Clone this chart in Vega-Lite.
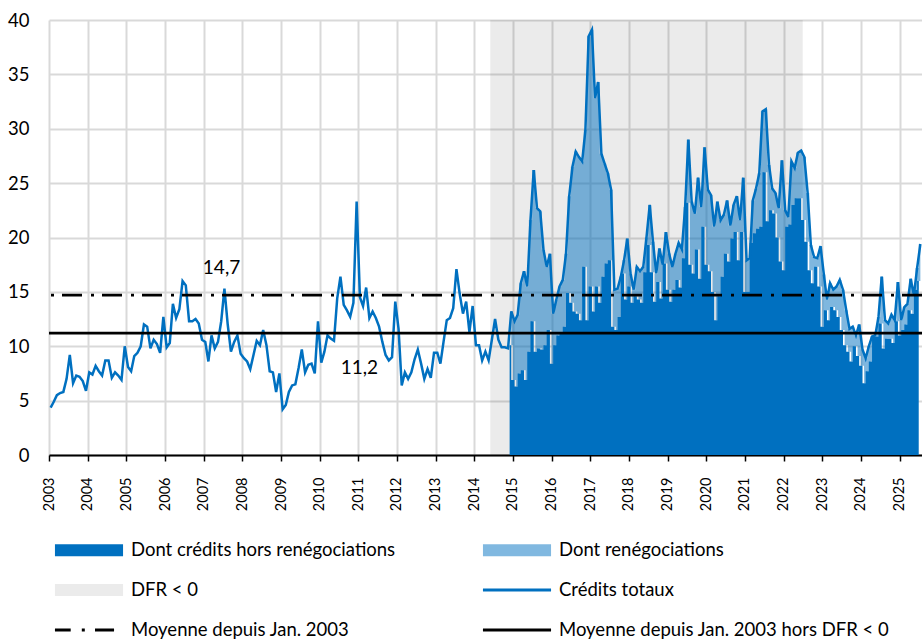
{
"$schema": "https://vega.github.io/schema/vega-lite/v6.json",
"width": 873, "height": 435,
"autosize": {"type": "none"},
"padding": {"left": 49, "top": 20, "right": 0, "bottom": 188},
"background": "white",
"config": {
  "font": "Lato",
  "view": {"stroke": null},
  "axisX": {"grid": true, "gridColor": "#d9d9d9", "gridWidth": 2, "domainColor": "#000000", "domainWidth": 2, "tickColor": "#000000", "tickWidth": 1.5, "tickSize": 6, "labelFontSize": 14.5, "labelColor": "#000000", "labelPadding": 16, "labelAngle": -90, "labelOverlap": false, "labelFlush": false, "title": null},
  "axisY": {"grid": true, "gridColor": "#d9d9d9", "gridWidth": 2, "domain": false, "ticks": false, "tickSize": 0, "labelFontSize": 18.5, "labelColor": "#000000", "labelPadding": 20, "title": null}
},
"datasets": {
"m": [
{"d":"2003-01","t":4.35},{"d":"2003-02","t":4.9},{"d":"2003-03","t":5.5},{"d":"2003-04","t":5.7},{"d":"2003-05","t":5.8},{"d":"2003-06","t":7.0},{"d":"2003-07","t":9.2},{"d":"2003-08","t":6.6},{"d":"2003-09","t":7.3},{"d":"2003-10","t":7.2},{"d":"2003-11","t":6.8},{"d":"2003-12","t":5.9},
{"d":"2004-01","t":7.6},{"d":"2004-02","t":7.4},{"d":"2004-03","t":8.2},{"d":"2004-04","t":7.7},{"d":"2004-05","t":7.3},{"d":"2004-06","t":8.7},{"d":"2004-07","t":8.7},{"d":"2004-08","t":7.1},{"d":"2004-09","t":7.6},{"d":"2004-10","t":7.3},{"d":"2004-11","t":6.9},{"d":"2004-12","t":10.0},
{"d":"2005-01","t":8.1},{"d":"2005-02","t":7.7},{"d":"2005-03","t":9.1},{"d":"2005-04","t":9.4},{"d":"2005-05","t":10.0},{"d":"2005-06","t":12.0},{"d":"2005-07","t":11.8},{"d":"2005-08","t":9.8},{"d":"2005-09","t":10.6},{"d":"2005-10","t":10.2},{"d":"2005-11","t":9.4},{"d":"2005-12","t":12.7},
{"d":"2006-01","t":9.9},{"d":"2006-02","t":10.3},{"d":"2006-03","t":13.9},{"d":"2006-04","t":12.6},{"d":"2006-05","t":13.4},{"d":"2006-06","t":16.0},{"d":"2006-07","t":15.6},{"d":"2006-08","t":12.3},{"d":"2006-09","t":12.3},{"d":"2006-10","t":12.5},{"d":"2006-11","t":12.1},{"d":"2006-12","t":10.6},
{"d":"2007-01","t":10.4},{"d":"2007-02","t":8.6},{"d":"2007-03","t":11.0},{"d":"2007-04","t":9.8},{"d":"2007-05","t":10.4},{"d":"2007-06","t":12.3},{"d":"2007-07","t":15.3},{"d":"2007-08","t":12.0},{"d":"2007-09","t":9.5},{"d":"2007-10","t":10.4},{"d":"2007-11","t":11.0},{"d":"2007-12","t":9.3},
{"d":"2008-01","t":8.9},{"d":"2008-02","t":8.6},{"d":"2008-03","t":7.9},{"d":"2008-04","t":9.2},{"d":"2008-05","t":10.5},{"d":"2008-06","t":10.1},{"d":"2008-07","t":11.5},{"d":"2008-08","t":10.1},{"d":"2008-09","t":7.7},{"d":"2008-10","t":7.6},{"d":"2008-11","t":5.8},{"d":"2008-12","t":7.5},
{"d":"2009-01","t":4.2},{"d":"2009-02","t":4.6},{"d":"2009-03","t":5.8},{"d":"2009-04","t":6.4},{"d":"2009-05","t":6.5},{"d":"2009-06","t":8.0},{"d":"2009-07","t":9.7},{"d":"2009-08","t":7.6},{"d":"2009-09","t":8.3},{"d":"2009-10","t":8.4},{"d":"2009-11","t":7.5},{"d":"2009-12","t":12.3},
{"d":"2010-01","t":8.5},{"d":"2010-02","t":9.5},{"d":"2010-03","t":11.0},{"d":"2010-04","t":10.7},{"d":"2010-05","t":10.5},{"d":"2010-06","t":14.4},{"d":"2010-07","t":16.4},{"d":"2010-08","t":13.8},{"d":"2010-09","t":13.3},{"d":"2010-10","t":12.7},{"d":"2010-11","t":14.0},{"d":"2010-12","t":23.3},
{"d":"2011-01","t":14.5},{"d":"2011-02","t":13.7},{"d":"2011-03","t":15.4},{"d":"2011-04","t":12.6},{"d":"2011-05","t":13.2},{"d":"2011-06","t":12.6},{"d":"2011-07","t":11.8},{"d":"2011-08","t":10.4},{"d":"2011-09","t":9.2},{"d":"2011-10","t":8.7},{"d":"2011-11","t":9.0},{"d":"2011-12","t":14.1},
{"d":"2012-01","t":11.6},{"d":"2012-02","t":6.4},{"d":"2012-03","t":7.6},{"d":"2012-04","t":7.0},{"d":"2012-05","t":7.6},{"d":"2012-06","t":8.8},{"d":"2012-07","t":9.7},{"d":"2012-08","t":8.4},{"d":"2012-09","t":7.0},{"d":"2012-10","t":7.9},{"d":"2012-11","t":7.1},{"d":"2012-12","t":9.4},
{"d":"2013-01","t":9.4},{"d":"2013-02","t":8.4},{"d":"2013-03","t":10.4},{"d":"2013-04","t":12.4},{"d":"2013-05","t":12.6},{"d":"2013-06","t":13.5},{"d":"2013-07","t":17.1},{"d":"2013-08","t":14.8},{"d":"2013-09","t":13.0},{"d":"2013-10","t":14.1},{"d":"2013-11","t":11.3},{"d":"2013-12","t":13.7},
{"d":"2014-01","t":10.1},{"d":"2014-02","t":10.1},{"d":"2014-03","t":8.7},{"d":"2014-04","t":9.5},{"d":"2014-05","t":8.7},{"d":"2014-06","t":10.6},{"d":"2014-07","t":12.5},{"d":"2014-08","t":10.6},{"d":"2014-09","t":9.9},{"d":"2014-10","t":9.9},{"d":"2014-11","t":9.8},{"d":"2014-12","t":13.2,"h":10.1},
{"d":"2015-01","t":12.3,"h":6.9},{"d":"2015-02","t":12.9,"h":6.3},{"d":"2015-03","t":15.8,"h":7.5},{"d":"2015-04","t":16.9,"h":7.8},{"d":"2015-05","t":15.5,"h":6.9},{"d":"2015-06","t":21.6,"h":9.5},{"d":"2015-07","t":26.2,"h":12.3},{"d":"2015-08","t":22.7,"h":9.5},{"d":"2015-09","t":22.4,"h":9.8},{"d":"2015-10","t":18.9,"h":9.7},{"d":"2015-11","t":17.3,"h":10.1},{"d":"2015-12","t":18.5,"h":11.5},
{"d":"2016-01","t":13.0,"h":8.4},{"d":"2016-02","t":14.3,"h":10.1},{"d":"2016-03","t":15.5,"h":11.0},{"d":"2016-04","t":16.1,"h":11.2},{"d":"2016-05","t":18.5,"h":11.8},{"d":"2016-06","t":23.8,"h":14.9},{"d":"2016-07","t":26.5,"h":14.0},{"d":"2016-08","t":27.9,"h":13.2},{"d":"2016-09","t":27.4,"h":13.0},{"d":"2016-10","t":27.0,"h":12.4},{"d":"2016-11","t":29.9,"h":17.3},{"d":"2016-12","t":38.5,"h":12.4},
{"d":"2017-01","t":39.1,"h":15.5},{"d":"2017-02","t":32.8,"h":13.2},{"d":"2017-03","t":34.3,"h":15.5},{"d":"2017-04","t":27.7,"h":14.0},{"d":"2017-05","t":26.8,"h":16.4},{"d":"2017-06","t":25.9,"h":17.6},{"d":"2017-07","t":24.4,"h":17.9},{"d":"2017-08","t":15.2,"h":11.8},{"d":"2017-09","t":15.3,"h":11.5},{"d":"2017-10","t":16.4,"h":12.7},{"d":"2017-11","t":17.9,"h":16.7},{"d":"2017-12","t":19.9,"h":14.3},
{"d":"2018-01","t":16.7,"h":15.5},{"d":"2018-02","t":15.2,"h":14.0},{"d":"2018-03","t":17.3,"h":14.6},{"d":"2018-04","t":16.9,"h":14.3},{"d":"2018-05","t":17.3,"h":14.0},{"d":"2018-06","t":20.0,"h":16.8},{"d":"2018-07","t":23.0,"h":19.3},{"d":"2018-08","t":19.6,"h":16.8},{"d":"2018-09","t":16.7,"h":14.1},{"d":"2018-10","t":19.0,"h":15.9},{"d":"2018-11","t":17.5,"h":14.4},{"d":"2018-12","t":20.5,"h":17.6},
{"d":"2019-01","t":18.5,"h":15.2},{"d":"2019-02","t":17.3,"h":14.1},{"d":"2019-03","t":18.5,"h":15.2},{"d":"2019-04","t":19.5,"h":16.1},{"d":"2019-05","t":18.9,"h":15.4},{"d":"2019-06","t":22.8,"h":18.1},{"d":"2019-07","t":29.0,"h":23.2},{"d":"2019-08","t":23.3,"h":17.5},{"d":"2019-09","t":22.2,"h":16.7},{"d":"2019-10","t":25.5,"h":18.9},{"d":"2019-11","t":22.8,"h":16.2},{"d":"2019-12","t":28.3,"h":21.0},
{"d":"2020-01","t":24.4,"h":17.5},{"d":"2020-02","t":23.9,"h":16.9},{"d":"2020-03","t":21.0,"h":15.0},{"d":"2020-04","t":23.3,"h":12.4},{"d":"2020-05","t":21.6,"h":14.6},{"d":"2020-06","t":22.1,"h":16.4},{"d":"2020-07","t":23.4,"h":18.5},{"d":"2020-08","t":21.1,"h":17.8},{"d":"2020-09","t":23.0,"h":19.9},{"d":"2020-10","t":23.8,"h":20.5},{"d":"2020-11","t":21.6,"h":17.9},{"d":"2020-12","t":25.5,"h":20.5},
{"d":"2021-01","t":17.9,"h":15.0},{"d":"2021-02","t":18.1,"h":15.0},{"d":"2021-03","t":23.4,"h":19.5},{"d":"2021-04","t":24.5,"h":20.4},{"d":"2021-05","t":25.9,"h":20.8},{"d":"2021-06","t":31.6,"h":21.0},{"d":"2021-07","t":31.8,"h":26.0},{"d":"2021-08","t":26.7,"h":21.5},{"d":"2021-09","t":24.5,"h":22.5},{"d":"2021-10","t":24.1,"h":22.2},{"d":"2021-11","t":22.7,"h":20.0},{"d":"2021-12","t":27.1,"h":17.8},
{"d":"2022-01","t":22.5,"h":17.0},{"d":"2022-02","t":21.9,"h":21.0},{"d":"2022-03","t":27.0,"h":21.2},{"d":"2022-04","t":26.4,"h":23.0},{"d":"2022-05","t":27.8,"h":23.6},{"d":"2022-06","t":28.0,"h":23.6},{"d":"2022-07","t":27.4,"h":21.6},{"d":"2022-08","t":24.1,"h":19.6},{"d":"2022-09","t":19.3,"h":17.0},{"d":"2022-10","t":18.2,"h":15.8},{"d":"2022-11","t":18.1,"h":17.3},{"d":"2022-12","t":19.2,"h":15.5},
{"d":"2023-01","t":16.6,"h":11.8},{"d":"2023-02","t":14.3,"h":13.3},{"d":"2023-03","t":15.8,"h":12.4},{"d":"2023-04","t":15.2,"h":13.6},{"d":"2023-05","t":15.5,"h":13.3},{"d":"2023-06","t":16.1,"h":12.7},{"d":"2023-07","t":15.2,"h":11.5},{"d":"2023-08","t":13.3,"h":10.1},{"d":"2023-09","t":11.6,"h":9.5},{"d":"2023-10","t":11.8,"h":8.6},{"d":"2023-11","t":11.0,"h":10.0},{"d":"2023-12","t":12.0,"h":9.1},
{"d":"2024-01","t":9.7,"h":8.2},{"d":"2024-02","t":8.9,"h":6.6},{"d":"2024-03","t":10.0,"h":7.7},{"d":"2024-04","t":10.9,"h":8.6},{"d":"2024-05","t":11.0,"h":10.9},{"d":"2024-06","t":12.7,"h":10.9},{"d":"2024-07","t":16.4,"h":12.1},{"d":"2024-08","t":12.4,"h":9.8},{"d":"2024-09","t":12.1,"h":10.7},{"d":"2024-10","t":12.9,"h":10.7},{"d":"2024-11","t":12.4,"h":10.3},{"d":"2024-12","t":15.9,"h":12.3},
{"d":"2025-01","t":12.4,"h":11.0},{"d":"2025-02","t":13.6,"h":11.5},{"d":"2025-03","t":13.9,"h":12.0},{"d":"2025-04","t":16.2,"h":13.3},{"d":"2025-05","t":14.7,"h":13.0},{"d":"2025-06","t":17.2,"h":15.2},{"d":"2025-07","t":19.4,"h":16.0}
]
},
"layer": [
  {
    "data": {"values": [{"s": "2014-06-01", "e": "2022-07-01"}]},
    "mark": {"type": "rect", "color": "#000000", "opacity": 0.08},
    "encoding": {
      "x": {"field": "s", "type": "temporal", "title": null,
        "scale": {"type": "utc", "domain": [{"year": 2003, "month": 1, "date": 1, "utc": true}, {"year": 2025, "month": 8, "date": 1, "utc": true}]},
        "axis": {"format": "%Y", "tickCount": {"interval": "year", "step": 1}}},
      "x2": {"field": "e"},
      "y": {"datum": 40, "type": "quantitative", "title": null, "scale": {"domain": [0, 40]}, "axis": {"values": [0, 5, 10, 15, 20, 25, 30, 35, 40]}},
      "y2": {"datum": 0}
    }
  },
  {
    "data": {"name": "m"},
    "transform": [{"filter": "isValid(datum.h)"}],
    "mark": {"type": "area", "interpolate": "step", "color": "#0070c0", "opacity": 0.5},
    "encoding": {
      "x": {"field": "d", "type": "temporal", "timeUnit": "utcyearmonth", "bandPosition": 0.5, "title": null},
      "y": {"field": "t", "type": "quantitative"},
      "y2": {"field": "h"}
    }
  },
  {
    "data": {"name": "m"},
    "transform": [{"filter": "isValid(datum.h)"}],
    "mark": {"type": "area", "interpolate": "step", "color": "#0070c0", "opacity": 1},
    "encoding": {
      "x": {"field": "d", "type": "temporal", "timeUnit": "utcyearmonth", "bandPosition": 0.5, "title": null},
      "y": {"field": "h", "type": "quantitative"}
    }
  },
  {
    "data": {"name": "m"},
    "mark": {"type": "line", "color": "#0070c0", "strokeWidth": 2.5},
    "encoding": {
      "x": {"field": "d", "type": "temporal", "timeUnit": "utcyearmonth", "bandPosition": 0.5, "title": null},
      "y": {"field": "t", "type": "quantitative"}
    }
  },
  {
    "data": {"values": [{"v": 14.7}]},
    "mark": {"type": "rule", "color": "#000000", "strokeWidth": 2.75, "strokeDash": [20, 8, 3, 9]},
    "encoding": {"y": {"field": "v", "type": "quantitative"}}
  },
  {
    "data": {"values": [{"v": 11.2}]},
    "mark": {"type": "rule", "color": "#000000", "strokeWidth": 2.75},
    "encoding": {"y": {"field": "v", "type": "quantitative"}}
  },
  {
    "data": {"values": [{"d": "2007-06-19", "v": 17.2, "l": "14,7"}, {"d": "2011-01-12", "v": 8.0, "l": "11,2"}]},
    "mark": {"type": "text", "fontSize": 19, "color": "#000000", "align": "center", "baseline": "middle"},
    "encoding": {
      "x": {"field": "d", "type": "temporal", "title": null},
      "y": {"field": "v", "type": "quantitative"},
      "text": {"field": "l"}
    }
  },
  {
    "data": {"values": [{"s": "none"}]},
    "transform": [{"filter": "datum.s == 'x'"}],
    "mark": {"type": "point", "filled": true, "opacity": 1},
    "encoding": {
      "color": {"field": "s", "type": "nominal",
        "scale": {"domain": ["Dont crédits hors renégociations", "DFR < 0", "Moyenne depuis Jan. 2003", "Dont renégociations", "Crédits totaux", "Moyenne depuis Jan. 2003 hors DFR < 0"],
                  "range": ["#0070c0", "#ebebeb", "#000000", "#80b8e0", "#0070c0", "#000000"]},
        "legend": {"title": null, "orient": "none", "legendX": 25, "legendY": 515, "columns": 2, "columnPadding": 86, "rowPadding": 15, "symbolSize": 900, "symbolOffset": 0, "symbolStrokeWidth": 0, "labelOffset": 27, "labelFontSize": 18.5, "labelFont": "Lato", "labelColor": "#000000", "labelLimit": 0, "padding": 0}},
      "shape": {"field": "s", "type": "nominal",
        "scale": {"domain": ["Dont crédits hors renégociations", "DFR < 0", "Moyenne depuis Jan. 2003", "Dont renégociations", "Crédits totaux", "Moyenne depuis Jan. 2003 hors DFR < 0"],
                  "range": ["M-2.27,-0.4H2.27V0.4H-2.27Z", "M-2.27,-0.4H2.27V0.4H-2.27Z", "M-2.27,-0.1H-1.22V0.1H-2.27Z M-0.48,-0.1H-0.28V0.1H-0.48Z M0.4,-0.1H1.67V0.1H0.4Z", "M-2.27,-0.4H2.27V0.4H-2.27Z", "M-2.27,-0.1H2.27V0.1H-2.27Z", "M-2.27,-0.1H2.27V0.1H-2.27Z"]}}
    }
  }
]
}
